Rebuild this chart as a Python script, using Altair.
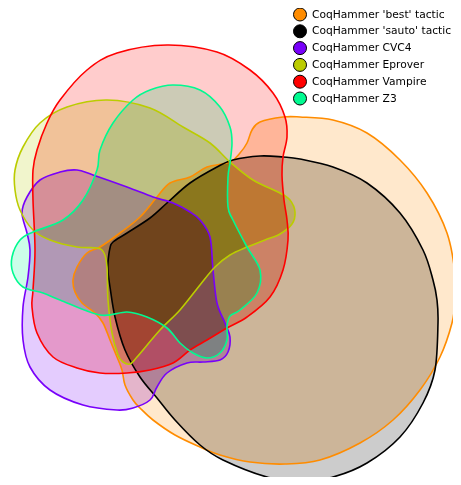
import altair as alt
import pandas as pd

sets = ["CoqHammer 'best' tactic", "CoqHammer 'sauto' tactic", "CoqHammer CVC4",
        "CoqHammer Eprover", "CoqHammer Vampire", "CoqHammer Z3"]
colors = ["#ff8c00", "#000000", "#7800fa", "#bbcc00", "#ff0000", "#00fa90"]
fill_alpha = 0.2

# outlines of each region (picture coordinates, y grows downward)
best_x = [300, 333, 367, 400, 427, 447, 455, 455, 452, 440, 420, 393, 360, 320, 285, 250, 220, 200, 175,
          153, 140, 133, 125, 122, 117, 110, 103, 95, 82, 75, 73, 77, 87, 100, 120, 140, 157, 170, 190,
          207, 230, 240, 247, 252, 260, 283]
best_y = [117, 120, 133, 160, 193, 233, 273, 300, 323, 357, 390, 420, 443, 460, 464, 462, 455, 447, 435,
          420, 408, 400, 385, 370, 357, 340, 323, 313, 303, 292, 280, 267, 253, 247, 233, 217, 197, 183, 177,
          167, 162, 153, 143, 130, 122, 117]

sauto_x = [108, 110, 113, 127, 150, 167, 190, 217, 233, 260, 283, 300, 333, 367, 400, 423, 433, 437, 438,
           435, 423, 400, 367, 333, 300, 267, 223, 200, 175, 157, 140, 125, 115, 110, 108]
sauto_y = [262, 248, 242, 233, 218, 203, 183, 167, 160, 156, 157, 159, 167, 183, 213, 250, 280, 300, 323,
           370, 403, 437, 463, 477, 481, 477, 460, 445, 420, 398, 377, 350, 317, 287, 272]

cvc4_x = [77, 93, 127, 153, 173, 190, 200, 210, 213, 217, 225, 230, 228, 220, 203, 187, 167, 157, 150,
          133, 117, 83, 50, 30, 23, 23, 28, 30, 27, 22, 27, 40, 60]
cvc4_y = [170, 175, 187, 197, 203, 212, 220, 237, 270, 303, 323, 337, 352, 360, 362, 363, 373, 387, 400,
          408, 410, 405, 390, 367, 340, 307, 277, 250, 233, 213, 197, 180, 172]

eprover_x = [107, 150, 183, 210, 230, 253, 280, 290, 295, 292, 280, 265, 247, 230, 215, 200, 180, 160,
             137, 130, 123, 118, 112, 108, 107, 104, 97, 77, 50, 33, 20, 15, 15, 23, 40, 67]
eprover_y = [100, 108, 127, 143, 162, 180, 193, 200, 212, 224, 234, 240, 247, 255, 267, 285, 310, 330,
             357, 364, 362, 355, 333, 300, 267, 253, 248, 247, 240, 230, 210, 190, 170, 147, 123, 107]

vampire_x = [167, 217, 250, 273, 285, 287, 283, 282, 284, 287, 288, 283, 270, 247, 227, 207, 190, 173,
             150, 127, 100, 77, 53, 37, 32, 33, 35, 33, 33, 37, 47, 60, 87, 117]
vampire_y = [45, 52, 70, 93, 117, 137, 157, 175, 200, 220, 240, 270, 297, 317, 328, 340, 350, 363,
             370, 373, 373, 368, 357, 333, 307, 290, 250, 200, 170, 150, 123, 100, 70, 53]

z3_x = [173, 200, 220, 230, 232, 230, 228, 228, 233, 247, 260, 257, 240, 230, 227, 227, 220, 207, 193,
        180, 167, 147, 127, 100, 60, 43, 23, 13, 12, 20, 33, 63, 83, 97, 100, 113, 133, 150]
z3_y = [85, 90, 107, 127, 143, 163, 177, 207, 220, 247, 270, 293, 310, 316, 326, 340, 353, 358, 353,
        343, 328, 317, 312, 315, 300, 293, 287, 273, 257, 240, 232, 220, 200, 170, 150, 123, 100, 90]

outlines = [(best_x, best_y), (sauto_x, sauto_y), (cvc4_x, cvc4_y),
            (eprover_x, eprover_y), (vampire_x, vampire_y), (z3_x, z3_y)]


def darken_colour(hex_col):
    # amount each translucent layer removes from the colour underneath
    r, g, b = (int(hex_col[i:i + 2], 16) for i in (1, 3, 5))
    return "#" + "".join("%02x" % round(fill_alpha * (255 - v)) for v in (r, g, b))


xs = alt.Scale(domain=[8, 453], nice=False, zero=False)
ys = alt.Scale(domain=[8, 477], nice=False, zero=False, reverse=True)

frames = []
for name, (px, py) in zip(sets, outlines):
    frames.append(pd.DataFrame({"x": px, "y": py, "i": list(range(len(px))), "set": name}))

fill_layers = []
stroke_layers = []
for name, col, df in zip(sets, colors, frames):
    enc = dict(x=alt.X("x:Q", scale=xs, axis=None),
               y=alt.Y("y:Q", scale=ys, axis=None),
               order=alt.Order("i:Q"))
    fill_layers.append(
        alt.Chart(df).mark_line(interpolate="cardinal-closed", blend="difference",
                                fillOpacity=1, strokeOpacity=0, strokeWidth=0)
        .encode(fill=alt.value(darken_colour(col)), **enc)
    )
    stroke_layers.append(
        alt.Chart(df).mark_line(interpolate="cardinal-closed", strokeWidth=1.6, strokeOpacity=1)
        .encode(stroke=alt.value(col), **enc)
    )

legend_df = pd.DataFrame({"set": sets, "x": [300] * 6, "y": [200] * 6})
legend_layer = alt.Chart(legend_df).mark_circle(size=0, opacity=1).encode(
    x=alt.X("x:Q", scale=xs, axis=None),
    y=alt.Y("y:Q", scale=ys, axis=None),
    fill=alt.Fill("set:N", scale=alt.Scale(domain=sets, range=colors), sort=sets,
                  legend=alt.Legend(title=None, orient="none", legendX=285, legendY=-0.5,
                                    symbolType="circle", symbolSize=169,
                                    symbolStrokeColor="black", symbolStrokeWidth=1,
                                    symbolOpacity=1, labelFont="DejaVu Sans", labelFontSize=10.7,
                                    labelColor="black", labelOffset=5, rowPadding=-1.2,
                                    padding=0, labelLimit=0)),
)

chart = alt.layer(*fill_layers, *stroke_layers, legend_layer).properties(
    width=445, height=469, padding=0, autosize="none", background="white"
).configure_view(stroke=None)

chart.save("out.html", embed_options={"renderer": "svg", "actions": False})
